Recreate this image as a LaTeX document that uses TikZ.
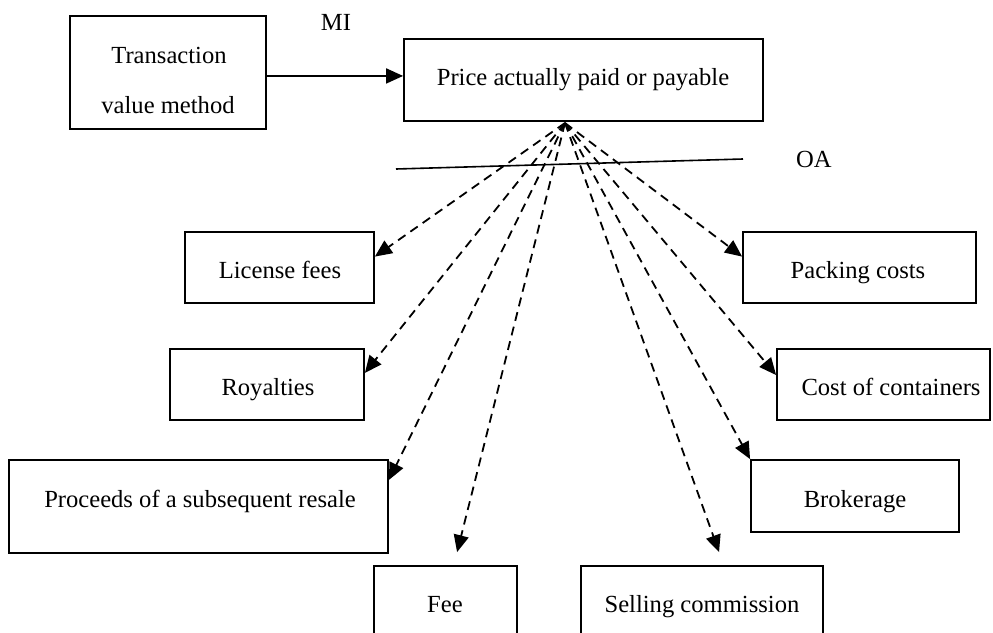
\documentclass[tikz,border=0pt]{standalone}
\usepackage{fontspec}
\setmainfont{Liberation Serif}
\usetikzlibrary{arrows.meta,calc,fit}
\begin{document}
\begin{tikzpicture}[x=0.5pt,y=-0.5pt,
  box/.style={draw, line width=0.9pt, inner sep=0pt},
  lbl/.style={anchor=base, inner sep=0pt, font=\fontsize{12.3}{24.5}\selectfont},
  feed/.style={line width=0.9pt, dash pattern=on 4.5pt off 3pt,
    -{Triangle[length=8.5pt,width=7.5pt]}},
  mainarrow/.style={line width=0.9pt, -{Triangle[length=8.5pt,width=7.5pt]}}]
\useasboundingbox (0,0) rectangle (993,633);
\clip (0,0) rectangle (993,633);

% boxes
\node[box, fit={(70,16) (266,129)}]   (trans) {};
\node[box, fit={(404,39) (763,121)}]  (price) {};
\node[box, fit={(185,232) (374,303)}] (lic)   {};
\node[box, fit={(170,349) (364,420)}] (roy)   {};
\node[box, fit={(9,460) (388,553)}]   (proc)  {};
\node[box, fit={(374,566) (517,660)}] (fee)   {};
\node[box, fit={(581,566) (823,660)}] (sell)  {};
\node[box, fit={(751,460) (959,532)}] (brok)  {};
\node[box, fit={(743,232) (976,303)}] (pack)  {};
\node[box, fit={(777,349) (990,420)}] (cont)  {};

% texts
\node[lbl] (trans-t1) at (169,63)  {Transaction};
\node[lbl] (trans-t2) at (168,113) {value method};
\node[lbl] (price-t)  at (583,85)  {Price actually paid or payable};
\node[lbl] (lic-t)    at (280,278) {License fees};
\node[lbl] (roy-t)    at (268,395) {Royalties};
\node[lbl] (proc-t)   at (200,507) {Proceeds of a subsequent resale};
\node[lbl] (fee-t)    at (445,612) {Fee};
\node[lbl] (sell-t)   at (702,612) {Selling commission};
\node[lbl] (brok-t)   at (855,507) {Brokerage};
\node[lbl] (pack-t)   at (858,278) {Packing costs};
\node[lbl] (cont-t)   at (891,395) {Cost of containers};
\node[lbl] (mi)       at (336,30)  {MI};
\node[lbl] (oa)       at (814,167) {OA};

% main flow
\coordinate (tstart) at ($(trans.north east)!0.53!(trans.south east)$);
\draw[mainarrow] (tstart) -- (tstart -| price.west);

% dividing line
\coordinate (divL) at (396,169);
\coordinate (divR) at (743,159);
\draw[line width=0.8pt] (divL) -- (divR);

% elements added to the price
\coordinate (apex) at (565,123);
\draw[feed] (apex) -- ($(lic.north east)!0.35!(lic.south east)$);
\draw[feed] (apex) -- ($(roy.north east)!0.34!(roy.south east)$);
\draw[feed] (apex) -- ($(proc.north east)!0.22!(proc.south east)$);
\draw[feed] (apex) -- ($(fee.north west)!0.58!(fee.north east)+(0,-13)$);
\draw[feed] (apex) -- ($(sell.north west)!0.57!(sell.north east)+(0,-13)$);
\draw[feed] (apex) -- (brok.north west);
\draw[feed] (apex) -- ($(cont.north west)!0.37!(cont.south west)$);
\draw[feed] (apex) -- ($(pack.north west)!0.35!(pack.south west)$);
\end{tikzpicture}
\end{document}
